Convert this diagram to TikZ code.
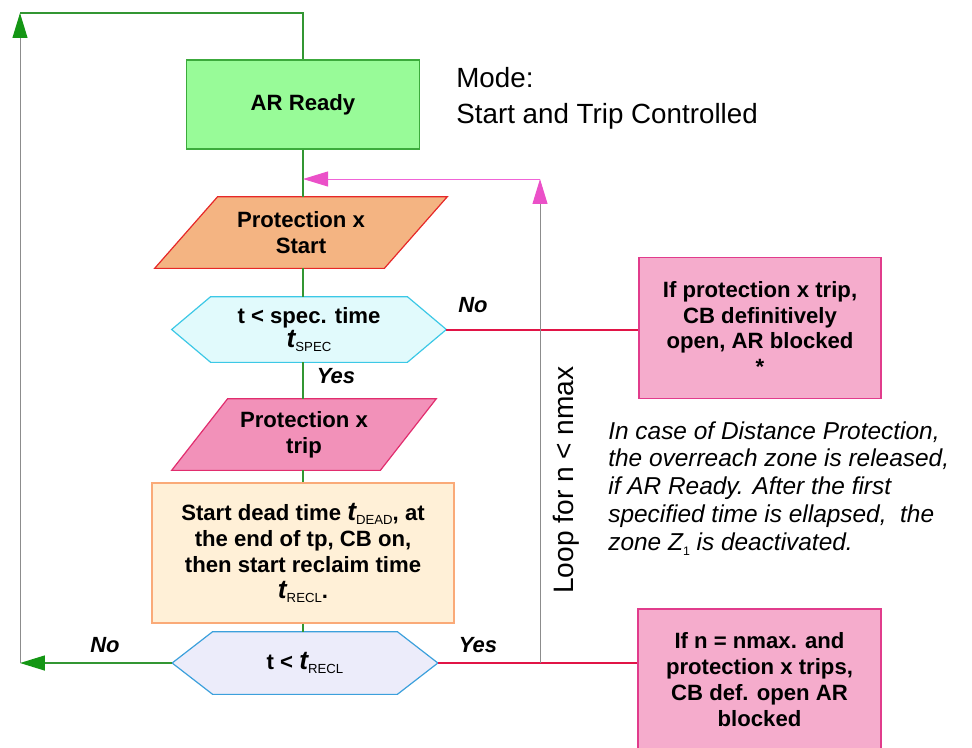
\documentclass[tikz,border=0pt]{standalone}
\usepackage{fontspec}
\setmainfont{Liberation Sans}
\usetikzlibrary{arrows.meta,backgrounds}
\newlength\px \setlength\px{0.02cm}
\definecolor{arFill}{RGB}{152,251,152}
\definecolor{arBorder}{RGB}{60,170,60}
\definecolor{psFill}{RGB}{244,180,130}
\definecolor{psBorder}{RGB}{230,40,40}
\definecolor{hOneFill}{RGB}{225,250,252}
\definecolor{hOneBorder}{RGB}{60,200,230}
\definecolor{ptFill}{RGB}{242,145,185}
\definecolor{ptBorder}{RGB}{225,45,110}
\definecolor{dbFill}{RGB}{255,240,215}
\definecolor{dbBorder}{RGB}{250,170,120}
\definecolor{hTwoFill}{RGB}{236,236,250}
\definecolor{hTwoBorder}{RGB}{60,160,220}
\definecolor{pbFill}{RGB}{245,172,204}
\definecolor{pbBorder}{RGB}{225,60,140}
\definecolor{redLine}{RGB}{225,20,70}
\definecolor{pinkArrow}{RGB}{235,80,200}
\definecolor{pinkLine}{RGB}{240,100,215}
\definecolor{greenLine}{RGB}{50,150,50}
\definecolor{greenTip}{RGB}{20,150,20}
\definecolor{grayLine}{RGB}{140,140,140}
\newcommand\tsub[1]{{\fontsize{15}{15}\selectfont\itshape\bfseries t}\raisebox{-0.35ex}{\fontsize{7.5}{7.5}\selectfont\mdseries\upshape #1}}
\begin{document}
\begin{tikzpicture}[x=0.02cm,y=-0.02cm,
  txt/.style={font=\fontsize{12.6}{14.7}\selectfont\bfseries, align=center, inner sep=0pt},
  shapeline/.style={line width=1.2\px},
  flow/.style={draw=greenLine, line width=1.6\px},
  redflow/.style={draw=redLine, line width=2\px},
  grayflow/.style={draw=grayLine, line width=1\px},
  greentip/.style={-{Triangle[length=0.5cm,width=0.3cm,color=greenTip]}},
  pinktip/.style={-{Triangle[length=0.5cm,width=0.3cm,color=pinkArrow]}},
  lbl/.style={font=\fontsize{12.5}{14}\selectfont\bfseries\itshape, inner sep=0pt}
]
\useasboundingbox (0,0) rectangle (972,747);

% nodes
\node[txt, draw=arBorder, fill=arFill, shapeline, minimum width=233\px, minimum height=89\px] (ar) at (303,104.5) {AR Ready};
\node[txt, minimum width=229\px, minimum height=71\px] (ps) at (301,232.5) {Protection x\\Start};
\node[txt, minimum width=196\px, minimum height=65\px] (h1) at (309,329.5) {t < spec. time\\[-1pt]\tsub{SPEC}};
\node[txt, minimum width=208\px, minimum height=71\px] (pt) at (304,434.5) {Protection x\\trip};
\node[txt, draw=dbBorder, fill=dbFill, shapeline, minimum width=302\px, minimum height=140\px] (db) at (303,553) {Start dead time \tsub{DEAD}, at\\the end of tp, CB on,\\then start reclaim time\\\tsub{RECL}.};
\node[txt, minimum width=184\px, minimum height=62\px] (h2) at (305,663) {t < \tsub{RECL}};
\node[txt, draw=pbBorder, fill=pbFill, shapeline, minimum width=242\px, minimum height=141\px] (pb1) at (760,328) {If protection x trip,\\CB definitively\\open, AR blocked\\*};
\node[txt, draw=pbBorder, fill=pbFill, shapeline, minimum width=243\px, minimum height=141\px] (pb2) at (759.5,679.5) {If n = nmax. and\\protection x trips,\\CB def. open AR\\blocked};

\node[anchor=west, align=left, inner sep=0pt, font=\fontsize{15.8}{20.4}\selectfont] (mode) at (456,98) {Mode:\\Start and Trip Controlled};
\node[anchor=north west, align=left, inner sep=0pt, font=\fontsize{13.9}{15.9}\selectfont\itshape] (note) at (608,421)
  {In case of Distance Protection,\\the overreach zone is released,\\if AR Ready. After the first\\specified time is ellapsed,\ \ the\\zone Z\raisebox{-0.4ex}{\fontsize{7}{7}\selectfont\upshape 1} is deactivated.};
\node[rotate=90, inner sep=0pt, font=\fontsize{16}{18}\selectfont] (loop) at (566,480) {Loop for n < nmax};

\node[lbl] (no1) at (473,305) {No};
\node[lbl] (yes1) at (336,376) {Yes};
\node[lbl] (no2) at (105,645) {No};
\node[lbl] (yes2) at (478,645) {Yes};

% background shapes
\begin{scope}[on background layer]
\filldraw[fill=psFill, draw=psBorder, shapeline]
  ([xshift=-31.5\px]ps.south west) -- ([xshift=-31.5\px]ps.south east) -- ([xshift=31.5\px]ps.north east) -- ([xshift=31.5\px]ps.north west) -- cycle;
\filldraw[fill=ptFill, draw=ptBorder, shapeline]
  ([xshift=-28\px]pt.south west) -- ([xshift=-28\px]pt.south east) -- ([xshift=28\px]pt.north east) -- ([xshift=28\px]pt.north west) -- cycle;
\filldraw[fill=hOneFill, draw=hOneBorder, shapeline]
  ([xshift=-39\px]h1.west) -- (h1.north west) -- (h1.north east) -- ([xshift=39\px]h1.east) -- (h1.south east) -- (h1.south west) -- cycle;
\filldraw[fill=hTwoFill, draw=hTwoBorder, shapeline]
  ([xshift=-40.5\px]h2.west) -- (h2.north west) -- (h2.north east) -- ([xshift=40.5\px]h2.east) -- (h2.south east) -- (h2.south west) -- cycle;
\end{scope}

% coordinates
\coordinate (spine) at (303,0);
\coordinate (h1tip) at ([xshift=39\px]h1.east);
\coordinate (h2tipR) at ([xshift=40.5\px]h2.east);
\coordinate (h2tipL) at ([xshift=-40.5\px]h2.west);
\coordinate (cl) at (20,663);
\coordinate (ctl) at (20,13);
\coordinate (loopbot) at (540,663);
\coordinate (looptop) at (540,179);

% main spine
\draw[flow] (spine |- ar.south) -- (spine |- ps.north);
\draw[flow] (spine |- ps.south) -- (spine |- h1.north);
\draw[flow] (spine |- h1.south) -- (spine |- pt.north);
\draw[flow] (spine |- pt.south) -- (spine |- db.north);
\draw[flow] (spine |- db.south) -- (spine |- h2.north);

% No branch back to AR Ready
\draw[flow, greentip] (h2tipL) -- (cl);
\draw[grayflow, greentip] (cl) -- (ctl);
\draw[flow] (ctl) -- (spine |- ctl) -- (spine |- ar.north);

% red branches
\draw[redflow] (h1tip) -- (h1tip -| pb1.west);
\draw[redflow] (h2tipR) -- (h2tipR -| pb2.west);

% loop
\draw[grayflow, pinktip] (loopbot) -- (looptop);
\draw[draw=pinkLine, line width=1\px, pinktip] (looptop) -- (spine |- looptop);
\end{tikzpicture}
\end{document}
